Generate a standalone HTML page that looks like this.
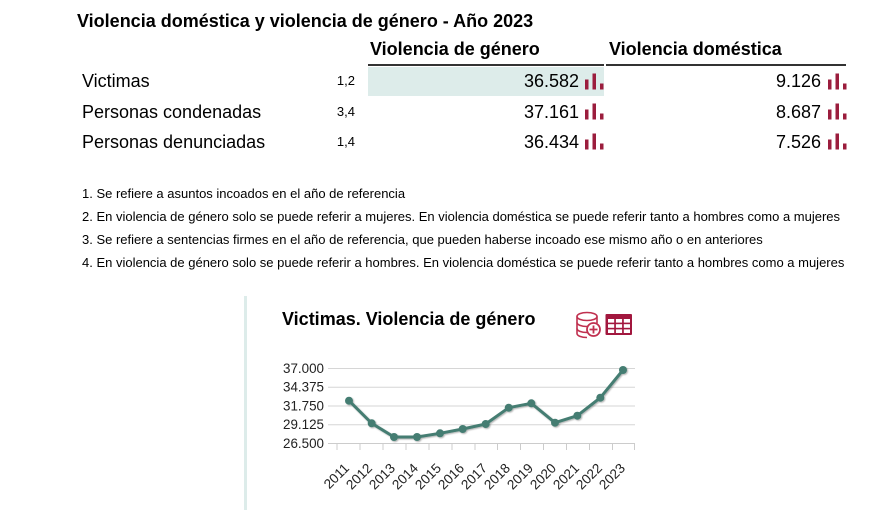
<!DOCTYPE html>
<html><head><meta charset="utf-8">
<style>
html,body{margin:0;padding:0;background:#fff;}
body{width:885px;height:510px;position:relative;overflow:hidden;font-family:"Liberation Sans",Arial,sans-serif;color:#000;}
.a{position:absolute;white-space:nowrap;}
.b{font-weight:bold;}
</style></head><body>
<div class="a b" style="left:77px;top:10px;font-size:18px;line-height:22px;">Violencia doméstica y violencia de género - Año 2023</div>
<div class="a b" style="left:370px;top:39px;font-size:18px;line-height:20px;">Violencia de género</div>
<div class="a b" style="left:609px;top:39px;font-size:18px;line-height:20px;">Violencia doméstica</div>
<div class="a" style="left:368px;top:64px;width:236px;height:2px;background:#333;"></div>
<div class="a" style="left:606px;top:64px;width:240px;height:2px;background:#333;"></div>
<div class="a" style="left:368px;top:67px;width:236px;height:29px;background:#ddecea;"></div>

<div class="a" style="left:82px;top:71px;font-size:18px;line-height:21px;">Victimas</div>
<div class="a" style="left:82px;top:102px;font-size:18px;line-height:21px;">Personas condenadas</div>
<div class="a" style="left:82px;top:132px;font-size:18px;line-height:21px;">Personas denunciadas</div>

<div class="a" style="left:315px;width:40px;text-align:right;top:73px;font-size:13px;line-height:16px;">1,2</div>
<div class="a" style="left:315px;width:40px;text-align:right;top:104px;font-size:13px;line-height:16px;">3,4</div>
<div class="a" style="left:315px;width:40px;text-align:right;top:134px;font-size:13px;line-height:16px;">1,4</div>

<div class="a" style="left:478px;width:101px;text-align:right;top:71px;font-size:18px;line-height:21px;">36.582</div>
<div class="a" style="left:478px;width:101px;text-align:right;top:102px;font-size:18px;line-height:21px;">37.161</div>
<div class="a" style="left:478px;width:101px;text-align:right;top:132px;font-size:18px;line-height:21px;">36.434</div>
<div class="a" style="left:720px;width:101px;text-align:right;top:71px;font-size:18px;line-height:21px;">9.126</div>
<div class="a" style="left:720px;width:101px;text-align:right;top:102px;font-size:18px;line-height:21px;">8.687</div>
<div class="a" style="left:720px;width:101px;text-align:right;top:132px;font-size:18px;line-height:21px;">7.526</div>

<svg class="a" style="left:0;top:0" width="885" height="510">
<g fill="#9b1d3d">
<g id="ic"><rect x="585" y="79.5" width="3.5" height="10"/><rect x="592.5" y="73.5" width="3.5" height="16"/><rect x="600" y="83.5" width="3.5" height="6"/></g>
<use href="#ic" x="0" y="30"/><use href="#ic" x="0" y="60"/>
<use href="#ic" x="243" y="0"/><use href="#ic" x="243" y="30"/><use href="#ic" x="243" y="60"/>
</g>
</svg>

<div class="a" style="left:82px;top:186px;font-size:13px;line-height:16px;">1. Se refiere a asuntos incoados en el año de referencia</div>
<div class="a" style="left:82px;top:209px;font-size:13px;line-height:16px;">2. En violencia de género solo se puede referir a mujeres. En violencia doméstica se puede referir tanto a hombres como a mujeres</div>
<div class="a" style="left:82px;top:232px;font-size:13px;line-height:16px;">3. Se refiere a sentencias firmes en el año de referencia, que pueden haberse incoado ese mismo año o en anteriores</div>
<div class="a" style="left:82px;top:255px;font-size:13px;line-height:16px;">4. En violencia de género solo se puede referir a hombres. En violencia doméstica se puede referir tanto a hombres como a mujeres</div>

<div class="a" style="left:244px;top:296px;width:3px;height:214px;background:#ddecea;"></div>
<div class="a b" style="left:282px;top:309px;font-size:18px;line-height:20px;">Victimas. Violencia de género</div>

<svg class="a" style="left:0;top:0" width="885" height="510" font-family="Liberation Sans, Arial, sans-serif">
<defs>
<filter id="sh" x="-50%" y="-50%" width="200%" height="200%"><feDropShadow dx="1" dy="1" stdDeviation="0.8" flood-color="#000" flood-opacity="0.3"/></filter>
</defs>
<!-- db icon -->
<g fill="none" stroke="#c0304f" stroke-width="1.6">
<ellipse cx="587" cy="316.5" rx="10" ry="4"/>
<path d="M577 316.5v6c0 2.2 4.5 4 10 4s10-1.8 10-4v-6"/>
<path d="M577 322.5v6c0 2.2 4.5 4 10 4"/>
<path d="M577 328.5v5c0 2.2 4.5 4 10 4"/>
</g>
<circle cx="593.5" cy="329.5" r="6.5" fill="#fff" stroke="#c0304f" stroke-width="1.8"/>
<path d="M593.5 325.5v8M589.5 329.5h8" stroke="#c0304f" stroke-width="1.8"/>
<!-- table icon -->
<rect x="605.5" y="314" width="26.5" height="21" rx="1" fill="#a2173e"/>
<g fill="#fff">
<rect x="608" y="319" width="6.2" height="3.6"/><rect x="615.9" y="319" width="6.2" height="3.6"/><rect x="623.8" y="319" width="6.2" height="3.6"/>
<rect x="608" y="324.2" width="6.2" height="3.6"/><rect x="615.9" y="324.2" width="6.2" height="3.6"/><rect x="623.8" y="324.2" width="6.2" height="3.6"/>
<rect x="608" y="329.4" width="6.2" height="3.6"/><rect x="615.9" y="329.4" width="6.2" height="3.6"/><rect x="623.8" y="329.4" width="6.2" height="3.6"/>
</g>
<!-- grid -->
<g stroke="#d6d6d6" stroke-width="1">
<line x1="328" y1="368.5" x2="635" y2="368.5"/>
<line x1="328" y1="387.2" x2="635" y2="387.2"/>
<line x1="328" y1="406" x2="635" y2="406"/>
<line x1="328" y1="424.7" x2="635" y2="424.7"/>
</g>
<line x1="328" y1="443.5" x2="635" y2="443.5" stroke="#ccc"/>
<g stroke="#ccc">
<line x1="337" y1="443.5" x2="337" y2="450"/><line x1="360" y1="443.5" x2="360" y2="450"/><line x1="383" y1="443.5" x2="383" y2="450"/><line x1="406" y1="443.5" x2="406" y2="450"/><line x1="429" y1="443.5" x2="429" y2="450"/><line x1="452" y1="443.5" x2="452" y2="450"/><line x1="475" y1="443.5" x2="475" y2="450"/><line x1="497.5" y1="443.5" x2="497.5" y2="450"/><line x1="520.5" y1="443.5" x2="520.5" y2="450"/><line x1="543.5" y1="443.5" x2="543.5" y2="450"/><line x1="566.5" y1="443.5" x2="566.5" y2="450"/><line x1="589.5" y1="443.5" x2="589.5" y2="450"/><line x1="612.5" y1="443.5" x2="612.5" y2="450"/><line x1="634.5" y1="443.5" x2="634.5" y2="450"/>
</g>
<g font-size="13.4" fill="#222" text-anchor="end">
<text x="324" y="373">37.000</text>
<text x="324" y="391.7">34.375</text>
<text x="324" y="410.5">31.750</text>
<text x="324" y="429.2">29.125</text>
<text x="324" y="448">26.500</text>
</g>
<g font-size="13.6" fill="#222" text-anchor="end">
<text x="350" y="469" transform="rotate(-45 350 469)">2011</text>
<text x="373" y="469" transform="rotate(-45 373 469)">2012</text>
<text x="396" y="469" transform="rotate(-45 396 469)">2013</text>
<text x="419" y="469" transform="rotate(-45 419 469)">2014</text>
<text x="442" y="469" transform="rotate(-45 442 469)">2015</text>
<text x="465" y="469" transform="rotate(-45 465 469)">2016</text>
<text x="488" y="469" transform="rotate(-45 488 469)">2017</text>
<text x="511" y="469" transform="rotate(-45 511 469)">2018</text>
<text x="534" y="469" transform="rotate(-45 534 469)">2019</text>
<text x="557" y="469" transform="rotate(-45 557 469)">2020</text>
<text x="580" y="469" transform="rotate(-45 580 469)">2021</text>
<text x="603" y="469" transform="rotate(-45 603 469)">2022</text>
<text x="626" y="469" transform="rotate(-45 626 469)">2023</text>
</g>
<g filter="url(#sh)">
<polyline fill="none" stroke="#447d72" stroke-width="3" stroke-linejoin="round" points="349,400.7 371.7,423.3 394,437 417,437 440,433.3 462.7,429 485.7,424 508.7,407.7 531.3,403.3 555,422.7 577.3,415.7 600.3,397.7 623,370"/>
<g fill="#447d72">
<circle cx="349" cy="400.7" r="4"/><circle cx="371.7" cy="423.3" r="4"/><circle cx="394" cy="437" r="4"/><circle cx="417" cy="437" r="4"/><circle cx="440" cy="433.3" r="4"/><circle cx="462.7" cy="429" r="4"/><circle cx="485.7" cy="424" r="4"/><circle cx="508.7" cy="407.7" r="4"/><circle cx="531.3" cy="403.3" r="4"/><circle cx="555" cy="422.7" r="4"/><circle cx="577.3" cy="415.7" r="4"/><circle cx="600.3" cy="397.7" r="4"/><circle cx="623" cy="370" r="4"/>
</g>
</g>
</svg>
</body></html>
